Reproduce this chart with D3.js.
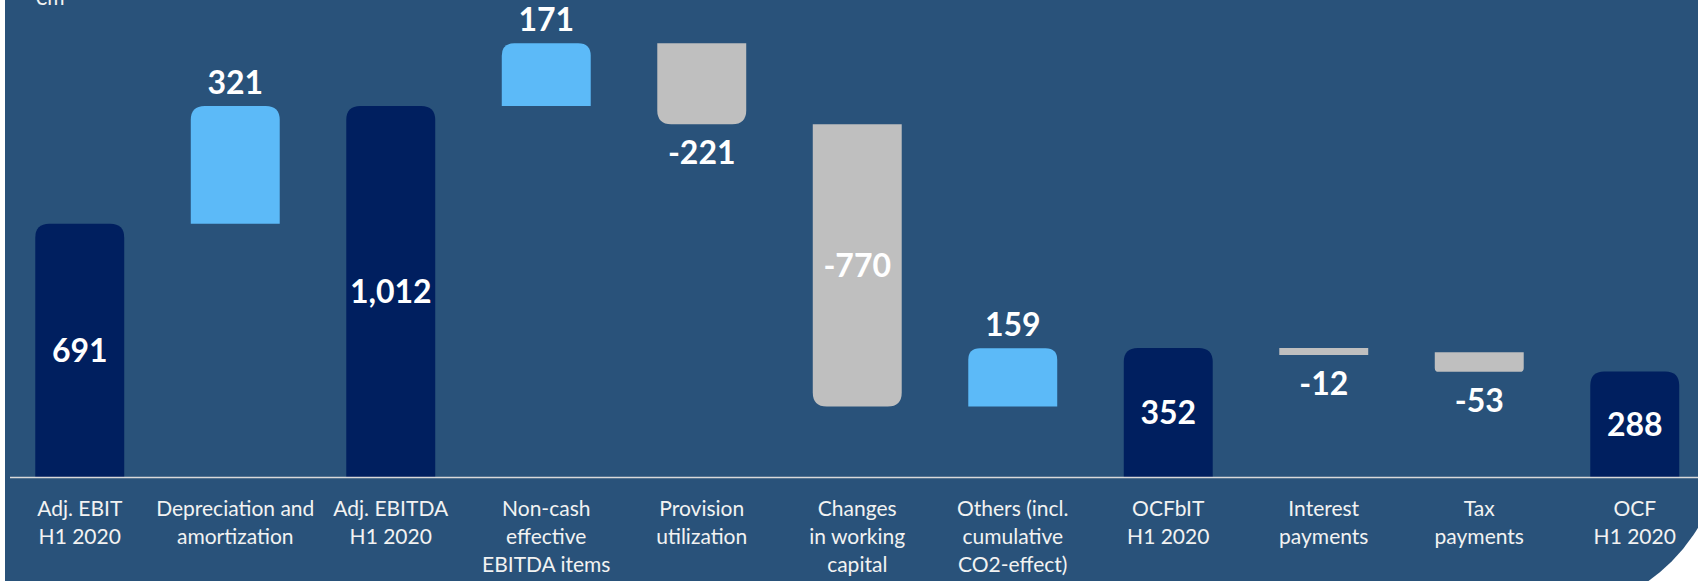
<!DOCTYPE html>
<html>
<head>
<meta charset="utf-8">
<script src="https://cdnjs.cloudflare.com/ajax/libs/d3/7.8.5/d3.min.js"></script>
<style>
  body { margin: 0; background: #fff; }
  svg { display: block; }
</style>
</head>
<body>
<div id="chart"></div>
<script>
// waterfall data, EUR m
var categories = [
    "Adj. EBIT\nH1 2020",
    "Depreciation and\namortization",
    "Adj. EBITDA\nH1 2020",
    "Non-cash\neffective\nEBITDA items",
    "Provision\nutilization",
    "Changes\nin working\ncapital",
    "Others (incl.\ncumulative\nCO2-effect)",
    "OCFbIT\nH1 2020",
    "Interest\npayments",
    "Tax\npayments",
    "OCF\nH1 2020"
];
var values = [691, 321, 1012, 171, -221, -770, 159, 352, -12, -53, 288];
var kinds = ["total", "delta", "total", "delta", "delta", "delta", "delta", "total", "delta", "delta", "total"];
var valueLabels = ["691", "321", "1,012", "171", "-221", "-770", "159", "352", "-12", "-53", "288"];
var labelPlaces = ["inside", "above", "inside", "above", "below", "inside", "above", "inside", "below", "below", "inside"];
var unitLabel = "€m";

var W = 1698, H = 581;
var baseY = 477;

var colors = { total: "#001f5f", up: "#5cbaf8", down: "#bfbfbf" };

var svg = d3.select("#chart").append("svg")
    .attr("width", W)
    .attr("height", H);

// background panel, white strip on the left and rounded bottom-right corner
var bgR = 172, bgX0 = 5, bgX1 = 1722, bgY1 = 612;
svg.append("path")
    .attr("fill", "#29527a")
    .attr("d", "M" + bgX0 + ",-10 L" + bgX1 + ",-10 L" + bgX1 + "," + (bgY1 - bgR) +
        " A" + bgR + "," + bgR + " 0 0 1 " + (bgX1 - bgR) + "," + bgY1 +
        " L" + bgX0 + "," + bgY1 + " Z");

// build waterfall steps
var level = 0;
var steps = values.map(function (v, i) {
    var start, end;
    if (kinds[i] === "total") {
        start = 0; end = v; level = v;
    } else {
        start = level; end = level + v; level = end;
    }
    return { cat: categories[i], value: v, kind: kinds[i], start: start, end: end,
        label: valueLabels[i], place: labelPlaces[i] };
});

var x = d3.scaleBand()
    .domain(categories)
    .range([2, 1712.5])
    .paddingInner(0.428)
    .paddingOuter(0.214);

var y = d3.scaleLinear()
    .domain([0, 1200])
    .range([baseY, baseY - 1200 * 0.3666]);

function barPath(x0, y0, w, h, r, roundTop) {
    if (r < 1) return "M" + x0 + "," + y0 + "h" + w + "v" + h + "h" + (-w) + "Z";
    if (roundTop) {
        return "M" + x0 + "," + (y0 + h) +
            "V" + (y0 + r) + "Q" + x0 + "," + y0 + " " + (x0 + r) + "," + y0 +
            "H" + (x0 + w - r) + "Q" + (x0 + w) + "," + y0 + " " + (x0 + w) + "," + (y0 + r) +
            "V" + (y0 + h) + "Z";
    }
    return "M" + x0 + "," + y0 +
        "H" + (x0 + w) + "V" + (y0 + h - r) +
        "Q" + (x0 + w) + "," + (y0 + h) + " " + (x0 + w - r) + "," + (y0 + h) +
        "H" + (x0 + r) + "Q" + x0 + "," + (y0 + h) + " " + x0 + "," + (y0 + h - r) + "Z";
}

var g = svg.append("g");

g.selectAll(".bar")
    .data(steps)
    .enter().append("path")
    .attr("class", "bar")
    .attr("fill", function (d) {
        return d.kind === "total" ? colors.total : (d.value >= 0 ? colors.up : colors.down);
    })
    .attr("d", function (d) {
        var top = y(Math.max(d.start, d.end)),
            bot = y(Math.min(d.start, d.end)),
            h = Math.max(bot - top, 7),
            r = h < 12 ? 0 : Math.min(14, h * 0.2);
        return barPath(x(d.cat), top, x.bandwidth(), h, r, d.value >= 0);
    });

// baseline
svg.append("line")
    .attr("x1", 10).attr("x2", W)
    .attr("y1", baseY + 0.5).attr("y2", baseY + 0.5)
    .attr("stroke", "#d9d9d9")
    .attr("stroke-width", 1.5);

// value labels
g.selectAll(".val")
    .data(steps)
    .enter().append("text")
    .attr("class", "val")
    .attr("x", function (d) { return x(d.cat) + x.bandwidth() / 2; })
    .attr("y", function (d) {
        var top = y(Math.max(d.start, d.end)),
            bot = Math.max(y(Math.min(d.start, d.end)), top + 7);
        if (d.place === "above") return top - 12;
        if (d.place === "below") return bot + 40;
        return (top + bot) / 2;
    })
    .attr("dy", function (d) { return d.place === "inside" ? "0.36em" : 0; })
    .attr("text-anchor", "middle")
    .attr("font-family", "Lato, 'Open Sans', sans-serif")
    .attr("font-weight", "bold")
    .attr("font-size", 32)
    .attr("fill", "#ffffff")
    .text(function (d) { return d.label; });

// category labels
var cats = svg.append("g")
    .attr("font-family", "Lato, 'Open Sans', sans-serif")
    .attr("font-size", 21)
    .attr("fill", "#f2f2f2")
    .attr("text-anchor", "middle");

cats.selectAll("text")
    .data(categories)
    .enter().append("text")
    .attr("x", function (d) { return x(d) + x.bandwidth() / 2; })
    .attr("y", 516)
    .each(function (d) {
        var t = d3.select(this);
        d.split("\n").forEach(function (line, i) {
            t.append("tspan")
                .attr("x", x(d) + x.bandwidth() / 2)
                .attr("dy", i === 0 ? 0 : 28)
                .text(line);
        });
    });

// unit, cut at the top edge
svg.append("text")
    .attr("x", 35)
    .attr("y", 5)
    .attr("font-family", "Lato, 'Open Sans', sans-serif")
    .attr("font-size", 21)
    .attr("fill", "#f2f2f2")
    .text(unitLabel);
</script>
</body>
</html>
